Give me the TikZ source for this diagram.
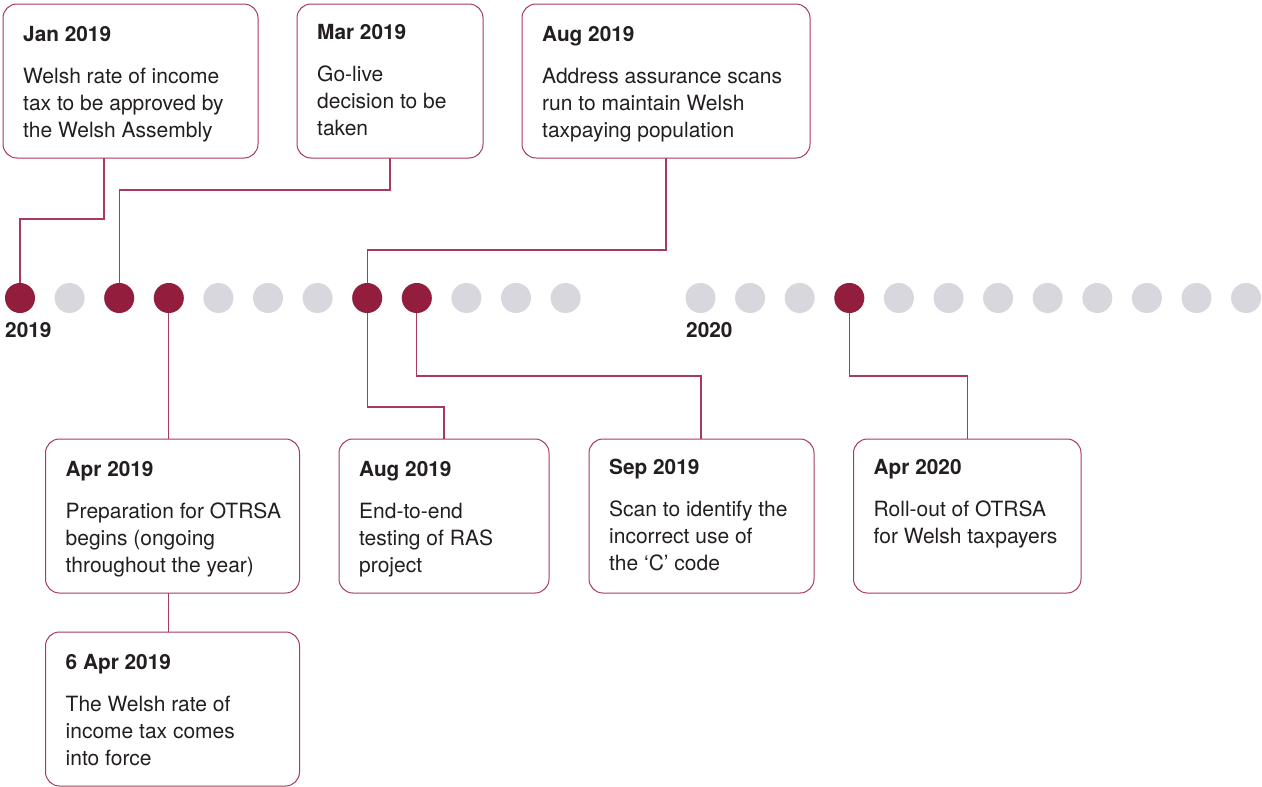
\documentclass[tikz,border=0pt]{standalone}
\usepackage{fontspec}
\setmainfont{TeX Gyre Heros}
\usetikzlibrary{calc}
\definecolor{dotred}{HTML}{921D3C}
\definecolor{dotgrey}{HTML}{D8D7DD}
\definecolor{edgered}{HTML}{A83A5C}
\definecolor{txt}{HTML}{231F20}
\tikzset{
  box/.style={draw=edgered, line width=1pt, rounded corners=14pt, inner sep=0pt, outer sep=0pt, minimum height=154, anchor=north west},
  ttl/.style={font=\fontsize{20.8}{24}\selectfont\bfseries, text=txt, inner sep=0pt, anchor=base west},
  bdy/.style={font=\fontsize{21}{27}\selectfont, text=txt, inner sep=0pt, anchor=base west},
  conn/.style={draw=edgered, line width=1.1pt},
  dotr/.style={circle, fill=dotred, minimum size=30, inner sep=0pt, outer sep=0pt},
  dotg/.style={circle, fill=dotgrey, minimum size=30, inner sep=0pt, outer sep=0pt},
}
\newcommand\mkbox[7]{%
  \node[box, minimum width=#4] (#1) at (#2,#3) {};
  \node[ttl] (#1t) at ($(#1.north west)+(20,37-#7)$) {#5};
  \foreach \ln [count=\i] in {#6} {
    \node[bdy] (#1l\i) at ($(#1.north west)+(20,52+27*\i-#7)$) {\ln};
  }
}
\begin{document}
\begin{tikzpicture}[x=1pt,y=-1pt]
\useasboundingbox[fill=white] (0,0) rectangle (1262,787);
% dots
\foreach \i in {1,...,12} {
  \pgfmathsetmacro\xx{20+49.6*(\i-1)}
  \node[dotg] (d\i) at (\xx,298) {};
}
\foreach \i in {13,...,24} {
  \pgfmathsetmacro\xx{700.5+49.6*(\i-13)}
  \node[dotg] (d\i) at (\xx,298) {};
}
\foreach \i in {1,3,4,8,9,16} {
  \node[dotr] (r\i) at (d\i) {};
}
\node[ttl] (y2019) at (5,337.5) {2019};
\node[ttl] (y2020) at (686,337.5) {2020};
% boxes
\mkbox{b1}{3}{4}{255}{Jan 2019}{Welsh rate of income,tax to be approved by,the Welsh Assembly}{0}
\mkbox{b2}{297}{4}{186}{Mar 2019}{Go-live,decision to be,taken}{2}
\mkbox{b3}{522}{4}{288}{Aug 2019}{Address assurance scans,run to maintain Welsh,taxpaying population}{0}
\mkbox{b4}{45.5}{439}{254}{Apr 2019}{Preparation for OTRSA,begins (ongoing,throughout the year)}{0}
\mkbox{b5}{45.5}{632}{254}{6 Apr 2019}{The Welsh rate of,income tax comes,into force}{0}
\mkbox{b6}{339}{439}{210}{Aug 2019}{End-to-end,testing of RAS,project}{0}
\mkbox{b7}{589}{439}{225}{Sep 2019}{Scan to identify the,incorrect use of,the ‘C’ code}{2}
\mkbox{b8}{853.5}{439}{227.5}{Apr 2020}{Roll-out of OTRSA,for Welsh taxpayers}{2}
% connectors
\draw[conn] (r1.north) -- ++(0,-64) -| ($(b1.south west)+(101,0)$);
\draw[conn] (r3.north) -- ++(0,-93) -| ($(b2.south west)+(93,0)$);
\draw[conn] (r8.north) -- ++(0,-33) -| ($(b3.south west)+(144,0)$);
\draw[conn] (r4.south) -- (r4.south |- b4.north);
\draw[conn] (b4.south -| r4) -- (b5.north -| r4);
\draw[conn] (r8.south) -- ++(0,94) -| ($(b6.north west)+(105,0)$);
\draw[conn] (r9.south) -- ++(0,63) -| ($(b7.north west)+(112,0)$);
\draw[conn] (r16.south) -- ++(0,63) -| ($(b8.north west)+(114,0)$);
\end{tikzpicture}
\end{document}
